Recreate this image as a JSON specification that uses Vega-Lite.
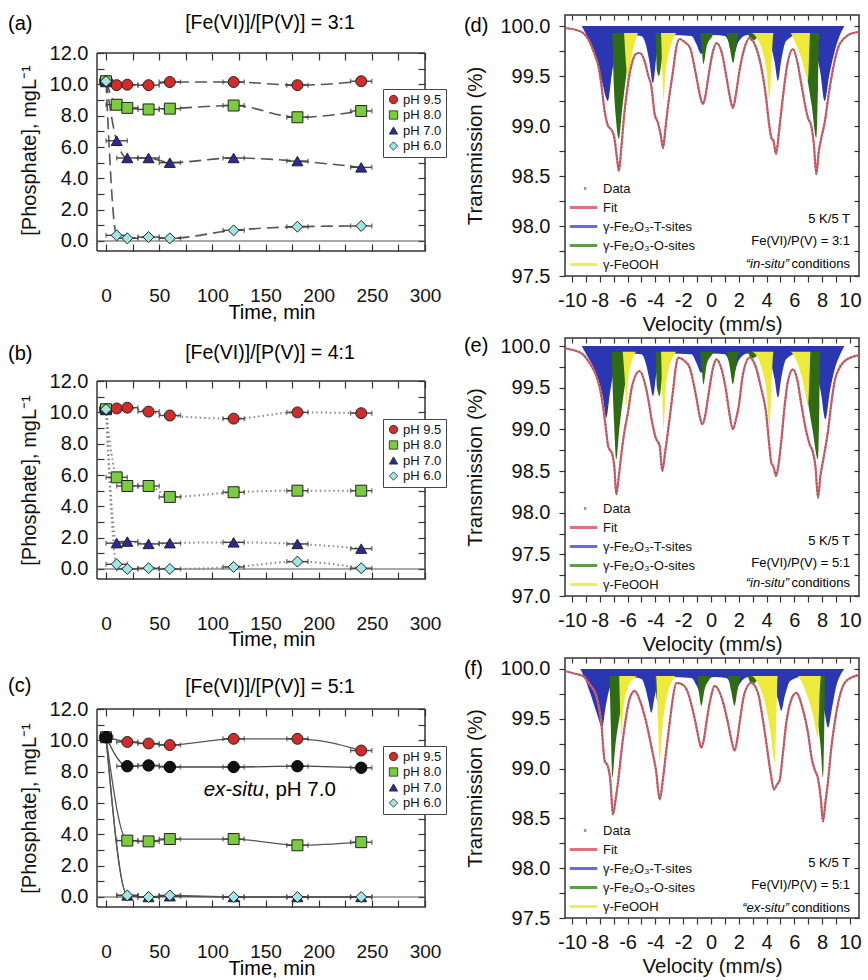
{
"$schema":"https://vega.github.io/schema/vega-lite/v6.json",
"background":"white",
"padding":{"left":8,"top":13,"right":0,"bottom":0},
"config":{"font":"Liberation Sans","view":{"stroke":"#333","strokeWidth":1.5},
"axis":{"domain":false,"grid":false,"tickColor":"#333","tickWidth":1.2,"labelColor":"#111","titleColor":"#111","titleFontWeight":"normal","labelFlush":false},
"legend":{"labelColor":"#111"}},
"datasets":{
"a":[{"t":0,"v":10.2,"ph":"pH 9.5","e":6},{"t":10,"v":9.95,"ph":"pH 9.5","e":10},{"t":20,"v":9.98,"ph":"pH 9.5","e":10},{"t":40,"v":9.95,"ph":"pH 9.5","e":10},{"t":60,"v":10.15,"ph":"pH 9.5","e":10},{"t":120,"v":10.15,"ph":"pH 9.5","e":10},{"t":180,"v":9.95,"ph":"pH 9.5","e":10},{"t":240,"v":10.2,"ph":"pH 9.5","e":10},
{"t":0,"v":10.2,"ph":"pH 8.0","e":6},{"t":10,"v":8.7,"ph":"pH 8.0","e":10},{"t":20,"v":8.5,"ph":"pH 8.0","e":10},{"t":40,"v":8.4,"ph":"pH 8.0","e":10},{"t":60,"v":8.45,"ph":"pH 8.0","e":10},{"t":120,"v":8.65,"ph":"pH 8.0","e":10},{"t":180,"v":7.9,"ph":"pH 8.0","e":10},{"t":240,"v":8.3,"ph":"pH 8.0","e":10},
{"t":0,"v":10.2,"ph":"pH 7.0","e":6},{"t":10,"v":6.4,"ph":"pH 7.0","e":10},{"t":20,"v":5.3,"ph":"pH 7.0","e":10},{"t":40,"v":5.3,"ph":"pH 7.0","e":10},{"t":60,"v":5.0,"ph":"pH 7.0","e":10},{"t":120,"v":5.3,"ph":"pH 7.0","e":10},{"t":180,"v":5.1,"ph":"pH 7.0","e":10},{"t":240,"v":4.7,"ph":"pH 7.0","e":10},
{"t":0,"v":10.2,"ph":"pH 6.0","e":6},{"t":10,"v":0.36,"ph":"pH 6.0","e":10},{"t":20,"v":0.17,"ph":"pH 6.0","e":10},{"t":40,"v":0.25,"ph":"pH 6.0","e":10},{"t":60,"v":0.17,"ph":"pH 6.0","e":10},{"t":120,"v":0.68,"ph":"pH 6.0","e":10},{"t":180,"v":0.91,"ph":"pH 6.0","e":10},{"t":240,"v":0.96,"ph":"pH 6.0","e":10}],
"b":[{"t":0,"v":10.2,"ph":"pH 9.5","e":6},{"t":10,"v":10.25,"ph":"pH 9.5","e":10},{"t":20,"v":10.3,"ph":"pH 9.5","e":10},{"t":40,"v":10.05,"ph":"pH 9.5","e":10},{"t":60,"v":9.8,"ph":"pH 9.5","e":10},{"t":120,"v":9.6,"ph":"pH 9.5","e":10},{"t":180,"v":10.0,"ph":"pH 9.5","e":10},{"t":240,"v":9.95,"ph":"pH 9.5","e":10},
{"t":0,"v":10.2,"ph":"pH 8.0","e":6},{"t":10,"v":5.85,"ph":"pH 8.0","e":10},{"t":20,"v":5.3,"ph":"pH 8.0","e":10},{"t":40,"v":5.3,"ph":"pH 8.0","e":10},{"t":60,"v":4.6,"ph":"pH 8.0","e":10},{"t":120,"v":4.9,"ph":"pH 8.0","e":10},{"t":180,"v":5.0,"ph":"pH 8.0","e":10},{"t":240,"v":5.0,"ph":"pH 8.0","e":10},
{"t":0,"v":10.2,"ph":"pH 7.0","e":6},{"t":10,"v":1.65,"ph":"pH 7.0","e":10},{"t":20,"v":1.75,"ph":"pH 7.0","e":10},{"t":40,"v":1.6,"ph":"pH 7.0","e":10},{"t":60,"v":1.65,"ph":"pH 7.0","e":10},{"t":120,"v":1.7,"ph":"pH 7.0","e":10},{"t":180,"v":1.6,"ph":"pH 7.0","e":10},{"t":240,"v":1.3,"ph":"pH 7.0","e":10},
{"t":0,"v":10.2,"ph":"pH 6.0","e":6},{"t":10,"v":0.3,"ph":"pH 6.0","e":10},{"t":20,"v":0.0,"ph":"pH 6.0","e":10},{"t":40,"v":0.05,"ph":"pH 6.0","e":10},{"t":60,"v":0.0,"ph":"pH 6.0","e":10},{"t":120,"v":0.13,"ph":"pH 6.0","e":10},{"t":180,"v":0.47,"ph":"pH 6.0","e":10},{"t":240,"v":0.05,"ph":"pH 6.0","e":10}],
"c":[{"t":0,"v":10.2,"ph":"pH 9.5","e":6},{"t":20,"v":9.9,"ph":"pH 9.5","e":10},{"t":40,"v":9.8,"ph":"pH 9.5","e":10},{"t":60,"v":9.7,"ph":"pH 9.5","e":10},{"t":120,"v":10.1,"ph":"pH 9.5","e":10},{"t":180,"v":10.1,"ph":"pH 9.5","e":10},{"t":240,"v":9.35,"ph":"pH 9.5","e":10},
{"t":0,"v":10.2,"ph":"pH 8.0","e":6},{"t":20,"v":3.6,"ph":"pH 8.0","e":10},{"t":40,"v":3.55,"ph":"pH 8.0","e":10},{"t":60,"v":3.7,"ph":"pH 8.0","e":10},{"t":120,"v":3.7,"ph":"pH 8.0","e":10},{"t":180,"v":3.3,"ph":"pH 8.0","e":10},{"t":240,"v":3.5,"ph":"pH 8.0","e":10},
{"t":0,"v":10.2,"ph":"pH 7.0","e":6},{"t":20,"v":0.1,"ph":"pH 7.0","e":10},{"t":40,"v":0.0,"ph":"pH 7.0","e":10},{"t":60,"v":0.05,"ph":"pH 7.0","e":10},{"t":120,"v":0.0,"ph":"pH 7.0","e":10},{"t":180,"v":0.0,"ph":"pH 7.0","e":10},{"t":240,"v":0.0,"ph":"pH 7.0","e":10},
{"t":0,"v":10.2,"ph":"pH 6.0","e":6},{"t":20,"v":0.1,"ph":"pH 6.0","e":10},{"t":40,"v":0.0,"ph":"pH 6.0","e":10},{"t":60,"v":0.1,"ph":"pH 6.0","e":10},{"t":120,"v":0.0,"ph":"pH 6.0","e":10},{"t":180,"v":0.0,"ph":"pH 6.0","e":10},{"t":240,"v":0.0,"ph":"pH 6.0","e":10}],
"cx":[{"t":0,"v":10.2,"e":6},{"t":20,"v":8.35,"e":10},{"t":40,"v":8.4,"e":10},{"t":60,"v":8.3,"e":10},{"t":120,"v":8.3,"e":10},{"t":180,"v":8.35,"e":10},{"t":240,"v":8.25,"e":10}],
"leg":[{"s":"Data"},{"s":"Fit"},{"s":"γ-Fe₂O₃-T-sites"},{"s":"γ-Fe₂O₃-O-sites"},{"s":"γ-FeOOH"}],
"dF":[{"v":-10.5,"y":99.98},{"v":-9.7,"y":99.96},{"v":-9.2,"y":99.93},{"v":-8.8,"y":99.86},{"v":-8.38,"y":99.72},{"v":-8.1,"y":99.6},{"v":-7.9,"y":99.43},{"v":-7.65,"y":99.15},{"v":-7.4,"y":99.0},{"v":-7.15,"y":98.96},{"v":-6.95,"y":98.88},{"v":-6.78,"y":98.7},{"v":-6.62,"y":98.55},{"v":-6.45,"y":98.78},{"v":-6.25,"y":99.1},{"v":-5.97,"y":99.42},{"v":-5.7,"y":99.62},{"v":-5.4,"y":99.72},{"v":-5.13,"y":99.73},{"v":-4.8,"y":99.66},{"v":-4.5,"y":99.5},{"v":-4.29,"y":99.4},{"v":-4.05,"y":99.12},{"v":-3.81,"y":99.03},{"v":-3.6,"y":98.9},{"v":-3.45,"y":98.78},{"v":-3.27,"y":98.98},{"v":-3.09,"y":99.2},{"v":-2.73,"y":99.55},{"v":-2.5,"y":99.78},{"v":-2.25,"y":99.87},{"v":-1.9,"y":99.84},{"v":-1.5,"y":99.78},{"v":-1.2,"y":99.6},{"v":-0.95,"y":99.42},{"v":-0.75,"y":99.28},{"v":-0.58,"y":99.22},{"v":-0.4,"y":99.3},{"v":-0.2,"y":99.48},{"v":0.1,"y":99.72},{"v":0.4,"y":99.83},{"v":0.8,"y":99.72},{"v":1.1,"y":99.5},{"v":1.35,"y":99.3},{"v":1.58,"y":99.18},{"v":1.8,"y":99.32},{"v":2.05,"y":99.55},{"v":2.35,"y":99.75},{"v":2.78,"y":99.88},{"v":3.2,"y":99.8},{"v":3.6,"y":99.6},{"v":3.95,"y":99.3},{"v":4.2,"y":99.0},{"v":4.35,"y":98.88},{"v":4.5,"y":98.85},{"v":4.68,"y":98.72},{"v":4.9,"y":98.95},{"v":5.1,"y":99.2},{"v":5.5,"y":99.62},{"v":5.9,"y":99.77},{"v":6.2,"y":99.65},{"v":6.5,"y":99.42},{"v":6.98,"y":99.08},{"v":7.22,"y":99.0},{"v":7.4,"y":98.82},{"v":7.58,"y":98.52},{"v":7.76,"y":98.75},{"v":7.94,"y":98.88},{"v":8.2,"y":99.05},{"v":8.45,"y":99.3},{"v":8.66,"y":99.48},{"v":9.14,"y":99.78},{"v":9.6,"y":99.88},{"v":10.2,"y":99.93},{"v":10.65,"y":99.94}],
"dT":[{"v":-9.3,"y":100},{"v":-8.86,"y":99.88},{"v":-8.38,"y":99.72},{"v":-7.9,"y":99.48},{"v":-7.41,"y":99.25},{"v":-7.15,"y":99.5},{"v":-6.85,"y":99.75},{"v":-6.4,"y":99.87},{"v":-5.8,"y":99.91},{"v":-5.0,"y":99.9},{"v":-4.7,"y":99.82},{"v":-4.45,"y":99.66},{"v":-4.17,"y":99.43},{"v":-3.92,"y":99.7},{"v":-3.6,"y":99.87},{"v":-3.0,"y":99.91},{"v":-1.4,"y":99.9},{"v":-1.05,"y":99.82},{"v":-0.7,"y":99.72},{"v":-0.38,"y":99.84},{"v":0.2,"y":99.91},{"v":1.0,"y":99.9},{"v":1.35,"y":99.82},{"v":1.65,"y":99.72},{"v":1.97,"y":99.84},{"v":2.6,"y":99.91},{"v":4.0,"y":99.9},{"v":4.32,"y":99.8},{"v":4.58,"y":99.64},{"v":4.82,"y":99.45},{"v":5.06,"y":99.66},{"v":5.4,"y":99.85},{"v":6.2,"y":99.91},{"v":7.0,"y":99.88},{"v":7.5,"y":99.76},{"v":7.85,"y":99.55},{"v":8.18,"y":99.25},{"v":8.5,"y":99.5},{"v":8.85,"y":99.72},{"v":9.25,"y":99.9},{"v":9.6,"y":100}],
"dO":[{"v":-7.1,"y":99.93},{"v":-7.0,"y":99.45},{"v":-6.85,"y":99.1},{"v":-6.62,"y":98.87},{"v":-6.4,"y":99.15},{"v":-6.1,"y":99.5},{"v":-5.8,"y":99.78},{"v":-5.5,"y":99.93},{"v":-4.0,"y":99.93},{"v":-3.88,"y":99.55},{"v":-3.75,"y":99.5},{"v":-3.5,"y":99.7},{"v":-3.3,"y":99.93},{"v":-0.8,"y":99.93},{"v":-0.65,"y":99.75},{"v":-0.55,"y":99.62},{"v":-0.3,"y":99.8},{"v":0.1,"y":99.9},{"v":0.2,"y":99.93},{"v":1.1,"y":99.93},{"v":1.35,"y":99.78},{"v":1.6,"y":99.63},{"v":1.8,"y":99.78},{"v":2.05,"y":99.93},{"v":2.6,"y":99.93},{"v":2.9,"y":99.85},{"v":3.3,"y":99.88},{"v":3.5,"y":99.93},{"v":6.1,"y":99.93},{"v":6.5,"y":99.78},{"v":6.9,"y":99.5},{"v":7.25,"y":99.2},{"v":7.58,"y":98.88},{"v":7.7,"y":99.4},{"v":7.78,"y":99.9},{"v":7.82,"y":99.93}],
"dY":[{"v":-6.25,"y":99.93},{"v":-6.1,"y":99.6},{"v":-5.97,"y":99.42},{"v":-5.8,"y":99.62},{"v":-5.5,"y":99.82},{"v":-5.2,"y":99.93},{"v":-3.6,"y":99.93},{"v":-3.5,"y":99.55},{"v":-3.4,"y":99.27},{"v":-3.25,"y":99.55},{"v":-3.0,"y":99.75},{"v":-2.7,"y":99.88},{"v":-2.45,"y":99.93},{"v":2.9,"y":99.93},{"v":3.3,"y":99.88},{"v":3.7,"y":99.75},{"v":4.0,"y":99.55},{"v":4.22,"y":99.27},{"v":4.35,"y":99.6},{"v":4.5,"y":99.93},{"v":5.7,"y":99.93},{"v":6.1,"y":99.82},{"v":6.5,"y":99.68},{"v":6.85,"y":99.5},{"v":6.98,"y":99.45},{"v":7.06,"y":99.7},{"v":7.12,"y":99.93}],
"eF":[{"v":-10.5,"y":99.97},{"v":-9.7,"y":99.94},{"v":-9.21,"y":99.9},{"v":-8.75,"y":99.8},{"v":-8.25,"y":99.64},{"v":-8.0,"y":99.5},{"v":-7.77,"y":99.28},{"v":-7.55,"y":99.0},{"v":-7.4,"y":98.8},{"v":-7.1,"y":98.7},{"v":-6.95,"y":98.55},{"v":-6.81,"y":98.22},{"v":-6.62,"y":98.45},{"v":-6.45,"y":98.7},{"v":-6.2,"y":99.0},{"v":-5.97,"y":99.2},{"v":-5.7,"y":99.5},{"v":-5.49,"y":99.62},{"v":-5.13,"y":99.7},{"v":-4.8,"y":99.58},{"v":-4.53,"y":99.38},{"v":-4.25,"y":99.1},{"v":-3.98,"y":98.9},{"v":-3.69,"y":98.8},{"v":-3.5,"y":98.5},{"v":-3.3,"y":98.72},{"v":-3.09,"y":98.98},{"v":-2.73,"y":99.46},{"v":-2.55,"y":99.72},{"v":-2.37,"y":99.86},{"v":-1.9,"y":99.82},{"v":-1.53,"y":99.74},{"v":-1.25,"y":99.55},{"v":-1.05,"y":99.38},{"v":-0.8,"y":99.15},{"v":-0.62,"y":99.06},{"v":-0.42,"y":99.16},{"v":-0.21,"y":99.38},{"v":0.15,"y":99.74},{"v":0.38,"y":99.84},{"v":0.8,"y":99.7},{"v":1.1,"y":99.45},{"v":1.3,"y":99.22},{"v":1.58,"y":99.0},{"v":1.8,"y":99.12},{"v":2.0,"y":99.28},{"v":2.3,"y":99.66},{"v":2.78,"y":99.86},{"v":3.2,"y":99.76},{"v":3.6,"y":99.5},{"v":3.98,"y":99.18},{"v":4.2,"y":98.8},{"v":4.34,"y":98.6},{"v":4.5,"y":98.55},{"v":4.68,"y":98.44},{"v":4.88,"y":98.6},{"v":5.06,"y":98.86},{"v":5.3,"y":99.28},{"v":5.54,"y":99.58},{"v":5.9,"y":99.72},{"v":6.2,"y":99.6},{"v":6.5,"y":99.3},{"v":6.8,"y":99.02},{"v":7.1,"y":98.82},{"v":7.34,"y":98.72},{"v":7.52,"y":98.55},{"v":7.7,"y":98.18},{"v":7.88,"y":98.45},{"v":8.06,"y":98.62},{"v":8.42,"y":98.98},{"v":8.65,"y":99.3},{"v":8.9,"y":99.58},{"v":9.25,"y":99.74},{"v":9.62,"y":99.82},{"v":10.2,"y":99.87},{"v":10.65,"y":99.89}],
"eT":[{"v":-9.3,"y":100},{"v":-8.9,"y":99.88},{"v":-8.25,"y":99.66},{"v":-7.77,"y":99.38},{"v":-7.53,"y":99.14},{"v":-7.28,"y":99.42},{"v":-6.95,"y":99.72},{"v":-6.4,"y":99.87},{"v":-5.8,"y":99.91},{"v":-5.0,"y":99.9},{"v":-4.7,"y":99.8},{"v":-4.45,"y":99.62},{"v":-4.17,"y":99.4},{"v":-3.92,"y":99.68},{"v":-3.6,"y":99.87},{"v":-3.0,"y":99.91},{"v":-1.4,"y":99.9},{"v":-1.05,"y":99.8},{"v":-0.7,"y":99.68},{"v":-0.38,"y":99.82},{"v":0.2,"y":99.91},{"v":1.0,"y":99.9},{"v":1.35,"y":99.8},{"v":1.65,"y":99.68},{"v":1.97,"y":99.82},{"v":2.6,"y":99.91},{"v":4.0,"y":99.9},{"v":4.32,"y":99.78},{"v":4.58,"y":99.6},{"v":4.82,"y":99.38},{"v":5.06,"y":99.62},{"v":5.4,"y":99.84},{"v":6.2,"y":99.91},{"v":7.0,"y":99.87},{"v":7.5,"y":99.72},{"v":7.9,"y":99.45},{"v":8.23,"y":99.12},{"v":8.55,"y":99.45},{"v":8.9,"y":99.72},{"v":9.3,"y":99.9},{"v":9.6,"y":100}],
"eO":[{"v":-7.15,"y":99.93},{"v":-7.05,"y":99.4},{"v":-6.95,"y":99.0},{"v":-6.81,"y":98.64},{"v":-6.6,"y":99.0},{"v":-6.3,"y":99.4},{"v":-6.0,"y":99.72},{"v":-5.7,"y":99.9},{"v":-5.5,"y":99.93},{"v":-4.0,"y":99.93},{"v":-3.88,"y":99.5},{"v":-3.7,"y":99.4},{"v":-3.5,"y":99.65},{"v":-3.3,"y":99.93},{"v":-0.8,"y":99.93},{"v":-0.65,"y":99.7},{"v":-0.55,"y":99.54},{"v":-0.3,"y":99.78},{"v":0.1,"y":99.9},{"v":0.2,"y":99.93},{"v":1.1,"y":99.93},{"v":1.35,"y":99.75},{"v":1.58,"y":99.54},{"v":1.8,"y":99.75},{"v":2.05,"y":99.93},{"v":2.6,"y":99.93},{"v":2.9,"y":99.85},{"v":3.3,"y":99.88},{"v":3.5,"y":99.93},{"v":6.1,"y":99.93},{"v":6.5,"y":99.75},{"v":6.9,"y":99.4},{"v":7.3,"y":99.0},{"v":7.7,"y":98.64},{"v":7.8,"y":99.3},{"v":7.86,"y":99.9},{"v":7.9,"y":99.93}],
"eY":[{"v":-6.35,"y":99.93},{"v":-6.2,"y":99.6},{"v":-6.09,"y":99.28},{"v":-5.95,"y":99.6},{"v":-5.65,"y":99.84},{"v":-5.35,"y":99.93},{"v":-3.6,"y":99.93},{"v":-3.5,"y":99.4},{"v":-3.4,"y":99.02},{"v":-3.25,"y":99.5},{"v":-3.0,"y":99.75},{"v":-2.7,"y":99.88},{"v":-2.45,"y":99.93},{"v":2.9,"y":99.93},{"v":3.3,"y":99.88},{"v":3.7,"y":99.7},{"v":4.0,"y":99.45},{"v":4.22,"y":99.04},{"v":4.35,"y":99.5},{"v":4.5,"y":99.93},{"v":5.7,"y":99.93},{"v":6.1,"y":99.84},{"v":6.5,"y":99.65},{"v":6.85,"y":99.38},{"v":6.98,"y":99.28},{"v":7.08,"y":99.6},{"v":7.15,"y":99.93}],
"fF":[{"v":-10.5,"y":99.98},{"v":-9.7,"y":99.95},{"v":-9.21,"y":99.93},{"v":-8.75,"y":99.85},{"v":-8.25,"y":99.73},{"v":-7.89,"y":99.46},{"v":-7.65,"y":99.08},{"v":-7.41,"y":99.02},{"v":-7.25,"y":98.9},{"v":-7.05,"y":98.54},{"v":-6.87,"y":98.68},{"v":-6.69,"y":98.86},{"v":-6.33,"y":99.3},{"v":-5.85,"y":99.7},{"v":-5.49,"y":99.78},{"v":-5.05,"y":99.66},{"v":-4.65,"y":99.46},{"v":-4.2,"y":99.16},{"v":-3.95,"y":98.98},{"v":-3.69,"y":98.69},{"v":-3.45,"y":98.9},{"v":-3.2,"y":99.2},{"v":-2.97,"y":99.46},{"v":-2.75,"y":99.7},{"v":-2.49,"y":99.86},{"v":-2.0,"y":99.84},{"v":-1.65,"y":99.76},{"v":-1.3,"y":99.58},{"v":-1.05,"y":99.42},{"v":-0.85,"y":99.28},{"v":-0.7,"y":99.21},{"v":-0.5,"y":99.3},{"v":-0.33,"y":99.46},{"v":0.0,"y":99.72},{"v":0.26,"y":99.83},{"v":0.8,"y":99.7},{"v":1.22,"y":99.46},{"v":1.45,"y":99.3},{"v":1.7,"y":99.18},{"v":1.9,"y":99.3},{"v":2.06,"y":99.46},{"v":2.42,"y":99.76},{"v":2.9,"y":99.86},{"v":3.4,"y":99.75},{"v":3.7,"y":99.52},{"v":3.98,"y":99.26},{"v":4.3,"y":98.95},{"v":4.53,"y":98.79},{"v":4.75,"y":98.84},{"v":4.94,"y":98.88},{"v":5.15,"y":99.12},{"v":5.42,"y":99.46},{"v":5.8,"y":99.7},{"v":6.14,"y":99.76},{"v":6.6,"y":99.6},{"v":6.98,"y":99.36},{"v":7.25,"y":99.1},{"v":7.46,"y":98.99},{"v":7.7,"y":98.9},{"v":7.9,"y":98.7},{"v":8.06,"y":98.47},{"v":8.25,"y":98.68},{"v":8.42,"y":98.87},{"v":8.65,"y":99.2},{"v":8.9,"y":99.46},{"v":9.25,"y":99.72},{"v":9.62,"y":99.86},{"v":10.2,"y":99.92},{"v":10.65,"y":99.94}],
"fT":[{"v":-9.4,"y":100},{"v":-9.0,"y":99.88},{"v":-8.6,"y":99.72},{"v":-8.2,"y":99.55},{"v":-7.82,"y":99.41},{"v":-7.6,"y":99.6},{"v":-7.3,"y":99.8},{"v":-6.8,"y":99.9},{"v":-5.8,"y":99.92},{"v":-5.0,"y":99.9},{"v":-4.7,"y":99.8},{"v":-4.5,"y":99.68},{"v":-4.29,"y":99.56},{"v":-4.05,"y":99.72},{"v":-3.75,"y":99.87},{"v":-3.0,"y":99.92},{"v":-1.4,"y":99.91},{"v":-1.05,"y":99.84},{"v":-0.75,"y":99.76},{"v":-0.45,"y":99.85},{"v":0.2,"y":99.92},{"v":1.1,"y":99.91},{"v":1.45,"y":99.84},{"v":1.75,"y":99.76},{"v":2.05,"y":99.85},{"v":2.7,"y":99.92},{"v":4.2,"y":99.91},{"v":4.6,"y":99.8},{"v":4.85,"y":99.68},{"v":5.06,"y":99.58},{"v":5.3,"y":99.72},{"v":5.7,"y":99.88},{"v":6.5,"y":99.92},{"v":7.3,"y":99.88},{"v":7.8,"y":99.75},{"v":8.15,"y":99.58},{"v":8.42,"y":99.41},{"v":8.7,"y":99.6},{"v":9.0,"y":99.82},{"v":9.35,"y":99.95},{"v":9.6,"y":100}],
"fO":[{"v":-7.3,"y":99.93},{"v":-7.2,"y":99.4},{"v":-7.1,"y":98.91},{"v":-6.9,"y":99.2},{"v":-6.6,"y":99.5},{"v":-6.3,"y":99.7},{"v":-6.0,"y":99.85},{"v":-5.7,"y":99.93},{"v":-4.05,"y":99.93},{"v":-3.9,"y":99.7},{"v":-3.75,"y":99.65},{"v":-3.5,"y":99.8},{"v":-3.2,"y":99.93},{"v":-1.0,"y":99.93},{"v":-0.85,"y":99.75},{"v":-0.7,"y":99.63},{"v":-0.45,"y":99.8},{"v":-0.1,"y":99.9},{"v":0.0,"y":99.93},{"v":1.2,"y":99.93},{"v":1.45,"y":99.78},{"v":1.7,"y":99.63},{"v":1.9,"y":99.78},{"v":2.15,"y":99.93},{"v":2.6,"y":99.93},{"v":2.9,"y":99.85},{"v":3.3,"y":99.88},{"v":3.5,"y":99.93},{"v":6.8,"y":99.93},{"v":7.2,"y":99.85},{"v":7.6,"y":99.55},{"v":7.9,"y":99.2},{"v":8.06,"y":98.91},{"v":8.15,"y":99.4},{"v":8.2,"y":99.93}],
"fY":[{"v":-6.6,"y":99.93},{"v":-6.52,"y":99.55},{"v":-6.45,"y":99.33},{"v":-6.3,"y":99.6},{"v":-6.0,"y":99.8},{"v":-5.6,"y":99.9},{"v":-5.3,"y":99.93},{"v":-3.95,"y":99.93},{"v":-3.8,"y":99.4},{"v":-3.69,"y":99.06},{"v":-3.5,"y":99.4},{"v":-3.2,"y":99.7},{"v":-2.8,"y":99.88},{"v":-2.5,"y":99.93},{"v":2.9,"y":99.93},{"v":3.4,"y":99.85},{"v":3.9,"y":99.65},{"v":4.3,"y":99.35},{"v":4.58,"y":99.06},{"v":4.7,"y":99.5},{"v":4.8,"y":99.93},{"v":6.2,"y":99.93},{"v":6.6,"y":99.85},{"v":7.0,"y":99.7},{"v":7.4,"y":99.5},{"v":7.7,"y":99.31},{"v":7.8,"y":99.7},{"v":7.9,"y":99.93}]
},
"hconcat":[
{"vconcat":[
{"width":328,"height":236,"view":{"stroke":null},"data":{"name":"a"},"layer":[
{"data":{"values":[{}]},"mark":{"type":"rule","color":"#333","strokeWidth":1.5},"encoding":{"x":{"datum":-8.5,"scale":{"domain":[-8.5,300],"nice":false,"zero":false},"axis":null},"x2":{"datum":300},"y":{"datum":12,"scale":{"domain":[-0.64,14.43],"nice":false,"zero":false},"axis":null}}},
{"data":{"values":[{}]},"mark":{"type":"rule","color":"#333","strokeWidth":1.5},"encoding":{"x":{"datum":-8.5,"scale":{"domain":[-8.5,300],"nice":false,"zero":false},"axis":null},"x2":{"datum":300},"y":{"datum":-0.64,"scale":{"domain":[-0.64,14.43],"nice":false,"zero":false},"axis":null}}},
{"data":{"values":[{}]},"mark":{"type":"rule","color":"#333","strokeWidth":1.5},"encoding":{"x":{"datum":-8.5,"scale":{"domain":[-8.5,300],"nice":false,"zero":false},"axis":null},"y":{"datum":-0.64,"scale":{"domain":[-0.64,14.43],"nice":false,"zero":false},"axis":null},"y2":{"datum":12}}},
{"data":{"values":[{}]},"mark":{"type":"rule","color":"#333","strokeWidth":1.5},"encoding":{"x":{"datum":300,"scale":{"domain":[-8.5,300],"nice":false,"zero":false},"axis":null},"y":{"datum":-0.64,"scale":{"domain":[-0.64,14.43],"nice":false,"zero":false},"axis":null},"y2":{"datum":12}}},
{"data":{"values":[{}]},"mark":{"type":"rule","color":"#555","strokeWidth":1.2},"encoding":{"x":{"datum":-8.5,"scale":{"domain":[-8.5,300],"nice":false,"zero":false},"axis":null},"x2":{"datum":300},"y":{"datum":0,"scale":{"domain":[-0.64,14.43],"nice":false,"zero":false},"axis":null}}},
{"mark":{"type":"line","color":"#555","strokeWidth":1.6,"strokeDash":[12,6],"interpolate":"monotone"},"encoding":{"x":{"field":"t","type":"quantitative","scale":{"domain":[-8.5,300],"nice":false,"zero":false},"axis":{"orient":"top","offset":-38,"values":[0,25,50,75,100,125,150,175,200,225,250,275,300],"labels":false,"tickSize":-7,"title":null}},"y":{"field":"v","type":"quantitative","scale":{"domain":[-0.64,14.43],"nice":false,"zero":false},"axis":{"orient":"right","values":[0,1,2,3,4,5,6,7,8,9,10,11,12],"labels":false,"tickSize":-7,"title":null}},"detail":{"field":"ph"}}},
{"mark":{"type":"errorbar","color":"#444","ticks":true,"thickness":1.4},"encoding":{"x":{"field":"t","type":"quantitative","scale":{"domain":[-8.5,300],"nice":false,"zero":false},"axis":null},"xError":{"field":"e"},"y":{"field":"v","type":"quantitative","scale":{"domain":[-0.64,14.43],"nice":false,"zero":false},"axis":null}}},
{"mark":{"type":"point","filled":true,"size":120,"stroke":"#222","strokeWidth":1,"opacity":1},"encoding":{"x":{"field":"t","type":"quantitative","scale":{"domain":[-8.5,300],"nice":false,"zero":false},"axis":{"orient":"bottom","values":[0,25,50,75,100,125,150,175,200,225,250,275,300],"labelExpr":"datum.value % 50 == 0 ? datum.label : ''","tickSize":-7,"labelPadding":42,"labelBaseline":"top","labelFontSize":19,"labelOverlap":false,"title":null}},"y":{"field":"v","type":"quantitative","scale":{"domain":[-0.64,14.43],"nice":false,"zero":false},"axis":{"orient":"left","values":[0,1,2,3,4,5,6,7,8,9,10,11,12],"labelExpr":"datum.value % 2 == 0 ? format(datum.value, '.1f') : ''","tickSize":-7,"labelPadding":16,"labelFontSize":20,"labelOverlap":false,"title":"[Phosphate], mgL⁻¹","titleFontSize":20,"titlePadding":10,"titleY":135}},
"color":{"field":"ph","type":"nominal","scale":{"domain":["pH 9.5","pH 8.0","pH 7.0","pH 6.0"],"range":["#d42a2a","#79cc3c","#2a2a9c","#9fe6e6"]},"legend":{"orient":"none","legendX":286,"legendY":74,"title":null,"strokeColor":"#444","fillColor":"#ffffff","padding":4,"labelFontSize":13,"symbolSize":70,"rowPadding":1.5,"labelOffset":3,"symbolStrokeColor":"#222","symbolStrokeWidth":0.8}},
"shape":{"field":"ph","type":"nominal","scale":{"domain":["pH 9.5","pH 8.0","pH 7.0","pH 6.0"],"range":["circle","square","triangle-up","diamond"]},"legend":{"orient":"none","legendX":286,"legendY":74,"title":null,"strokeColor":"#444","fillColor":"#ffffff","padding":4,"labelFontSize":13,"symbolSize":70,"rowPadding":1.5,"labelOffset":3,"symbolStrokeColor":"#222","symbolStrokeWidth":0.8}}}},
{"data":{"values":[{}]},"mark":{"type":"text","fontSize":20,"align":"left","baseline":"middle"},"encoding":{"x":{"datum":-92.2,"scale":{"domain":[-8.5,300],"nice":false,"zero":false},"axis":null},"y":{"datum":13.88,"scale":{"domain":[-0.64,14.43],"nice":false,"zero":false},"axis":null},"text":{"value":"(a)"}}},
{"data":{"values":[{}]},"mark":{"type":"text","fontSize":19.5,"align":"center","baseline":"middle"},"encoding":{"x":{"datum":154.2,"scale":{"domain":[-8.5,300],"nice":false,"zero":false},"axis":null},"y":{"datum":13.91,"scale":{"domain":[-0.64,14.43],"nice":false,"zero":false},"axis":null},"text":{"value":"[Fe(VI)]/[P(V)] = 3:1"}}},
{"data":{"values":[{}]},"mark":{"type":"text","fontSize":20,"align":"center","baseline":"middle"},"encoding":{"x":{"datum":156,"scale":{"domain":[-8.5,300],"nice":false,"zero":false},"axis":null},"y":{"datum":-4.6,"scale":{"domain":[-0.64,14.43],"nice":false,"zero":false},"axis":null},"text":{"value":"Time, min"}}}
],"resolve":{"axis":{"x":"independent","y":"independent"}}},
{"width":328,"height":236,"view":{"stroke":null},"data":{"name":"b"},"layer":[
{"data":{"values":[{}]},"mark":{"type":"rule","color":"#333","strokeWidth":1.5},"encoding":{"x":{"datum":-8.5,"scale":{"domain":[-8.5,300],"nice":false,"zero":false},"axis":null},"x2":{"datum":300},"y":{"datum":12,"scale":{"domain":[-0.64,14.43],"nice":false,"zero":false},"axis":null}}},
{"data":{"values":[{}]},"mark":{"type":"rule","color":"#333","strokeWidth":1.5},"encoding":{"x":{"datum":-8.5,"scale":{"domain":[-8.5,300],"nice":false,"zero":false},"axis":null},"x2":{"datum":300},"y":{"datum":-0.64,"scale":{"domain":[-0.64,14.43],"nice":false,"zero":false},"axis":null}}},
{"data":{"values":[{}]},"mark":{"type":"rule","color":"#333","strokeWidth":1.5},"encoding":{"x":{"datum":-8.5,"scale":{"domain":[-8.5,300],"nice":false,"zero":false},"axis":null},"y":{"datum":-0.64,"scale":{"domain":[-0.64,14.43],"nice":false,"zero":false},"axis":null},"y2":{"datum":12}}},
{"data":{"values":[{}]},"mark":{"type":"rule","color":"#333","strokeWidth":1.5},"encoding":{"x":{"datum":300,"scale":{"domain":[-8.5,300],"nice":false,"zero":false},"axis":null},"y":{"datum":-0.64,"scale":{"domain":[-0.64,14.43],"nice":false,"zero":false},"axis":null},"y2":{"datum":12}}},
{"data":{"values":[{}]},"mark":{"type":"rule","color":"#555","strokeWidth":1.2},"encoding":{"x":{"datum":-8.5,"scale":{"domain":[-8.5,300],"nice":false,"zero":false},"axis":null},"x2":{"datum":300},"y":{"datum":0,"scale":{"domain":[-0.64,14.43],"nice":false,"zero":false},"axis":null}}},
{"mark":{"type":"line","color":"#888","strokeWidth":2,"strokeDash":[1.5,3],"interpolate":"monotone"},"encoding":{"x":{"field":"t","type":"quantitative","scale":{"domain":[-8.5,300],"nice":false,"zero":false},"axis":{"orient":"top","offset":-38,"values":[0,25,50,75,100,125,150,175,200,225,250,275,300],"labels":false,"tickSize":-7,"title":null}},"y":{"field":"v","type":"quantitative","scale":{"domain":[-0.64,14.43],"nice":false,"zero":false},"axis":{"orient":"right","values":[0,1,2,3,4,5,6,7,8,9,10,11,12],"labels":false,"tickSize":-7,"title":null}},"detail":{"field":"ph"}}},
{"mark":{"type":"errorbar","color":"#444","ticks":true,"thickness":1.4},"encoding":{"x":{"field":"t","type":"quantitative","scale":{"domain":[-8.5,300],"nice":false,"zero":false},"axis":null},"xError":{"field":"e"},"y":{"field":"v","type":"quantitative","scale":{"domain":[-0.64,14.43],"nice":false,"zero":false},"axis":null}}},
{"mark":{"type":"point","filled":true,"size":120,"stroke":"#222","strokeWidth":1,"opacity":1},"encoding":{"x":{"field":"t","type":"quantitative","scale":{"domain":[-8.5,300],"nice":false,"zero":false},"axis":{"orient":"bottom","values":[0,25,50,75,100,125,150,175,200,225,250,275,300],"labelExpr":"datum.value % 50 == 0 ? datum.label : ''","tickSize":-7,"labelPadding":42,"labelBaseline":"top","labelFontSize":19,"labelOverlap":false,"title":null}},"y":{"field":"v","type":"quantitative","scale":{"domain":[-0.64,14.43],"nice":false,"zero":false},"axis":{"orient":"left","values":[0,1,2,3,4,5,6,7,8,9,10,11,12],"labelExpr":"datum.value % 2 == 0 ? format(datum.value, '.1f') : ''","tickSize":-7,"labelPadding":16,"labelFontSize":20,"labelOverlap":false,"title":"[Phosphate], mgL⁻¹","titleFontSize":20,"titlePadding":10,"titleY":137}},
"color":{"field":"ph","type":"nominal","scale":{"domain":["pH 9.5","pH 8.0","pH 7.0","pH 6.0"],"range":["#d42a2a","#79cc3c","#2a2a9c","#9fe6e6"]},"legend":{"orient":"none","legendX":286,"legendY":76,"title":null,"strokeColor":"#444","fillColor":"#ffffff","padding":4,"labelFontSize":13,"symbolSize":70,"rowPadding":1.5,"labelOffset":3,"symbolStrokeColor":"#222","symbolStrokeWidth":0.8}},
"shape":{"field":"ph","type":"nominal","scale":{"domain":["pH 9.5","pH 8.0","pH 7.0","pH 6.0"],"range":["circle","square","triangle-up","diamond"]},"legend":{"orient":"none","legendX":286,"legendY":76,"title":null,"strokeColor":"#444","fillColor":"#ffffff","padding":4,"labelFontSize":13,"symbolSize":70,"rowPadding":1.5,"labelOffset":3,"symbolStrokeColor":"#222","symbolStrokeWidth":0.8}}}},
{"data":{"values":[{}]},"mark":{"type":"text","fontSize":20,"align":"left","baseline":"middle"},"encoding":{"x":{"datum":-92.2,"scale":{"domain":[-8.5,300],"nice":false,"zero":false},"axis":null},"y":{"datum":13.7,"scale":{"domain":[-0.64,14.43],"nice":false,"zero":false},"axis":null},"text":{"value":"(b)"}}},
{"data":{"values":[{}]},"mark":{"type":"text","fontSize":19.5,"align":"center","baseline":"middle"},"encoding":{"x":{"datum":154.2,"scale":{"domain":[-8.5,300],"nice":false,"zero":false},"axis":null},"y":{"datum":13.78,"scale":{"domain":[-0.64,14.43],"nice":false,"zero":false},"axis":null},"text":{"value":"[Fe(VI)]/[P(V)] = 4:1"}}},
{"data":{"values":[{}]},"mark":{"type":"text","fontSize":20,"align":"center","baseline":"middle"},"encoding":{"x":{"datum":156,"scale":{"domain":[-8.5,300],"nice":false,"zero":false},"axis":null},"y":{"datum":-4.55,"scale":{"domain":[-0.64,14.43],"nice":false,"zero":false},"axis":null},"text":{"value":"Time, min"}}}
],"resolve":{"axis":{"x":"independent","y":"independent"}}},
{"width":328,"height":236,"view":{"stroke":null},"data":{"name":"c"},"layer":[
{"data":{"values":[{}]},"mark":{"type":"rule","color":"#333","strokeWidth":1.5},"encoding":{"x":{"datum":-8.5,"scale":{"domain":[-8.5,300],"nice":false,"zero":false},"axis":null},"x2":{"datum":300},"y":{"datum":12,"scale":{"domain":[-0.64,14.43],"nice":false,"zero":false},"axis":null}}},
{"data":{"values":[{}]},"mark":{"type":"rule","color":"#333","strokeWidth":1.5},"encoding":{"x":{"datum":-8.5,"scale":{"domain":[-8.5,300],"nice":false,"zero":false},"axis":null},"x2":{"datum":300},"y":{"datum":-0.64,"scale":{"domain":[-0.64,14.43],"nice":false,"zero":false},"axis":null}}},
{"data":{"values":[{}]},"mark":{"type":"rule","color":"#333","strokeWidth":1.5},"encoding":{"x":{"datum":-8.5,"scale":{"domain":[-8.5,300],"nice":false,"zero":false},"axis":null},"y":{"datum":-0.64,"scale":{"domain":[-0.64,14.43],"nice":false,"zero":false},"axis":null},"y2":{"datum":12}}},
{"data":{"values":[{}]},"mark":{"type":"rule","color":"#333","strokeWidth":1.5},"encoding":{"x":{"datum":300,"scale":{"domain":[-8.5,300],"nice":false,"zero":false},"axis":null},"y":{"datum":-0.64,"scale":{"domain":[-0.64,14.43],"nice":false,"zero":false},"axis":null},"y2":{"datum":12}}},
{"data":{"values":[{}]},"mark":{"type":"rule","color":"#555","strokeWidth":1.2},"encoding":{"x":{"datum":-8.5,"scale":{"domain":[-8.5,300],"nice":false,"zero":false},"axis":null},"x2":{"datum":300},"y":{"datum":0,"scale":{"domain":[-0.64,14.43],"nice":false,"zero":false},"axis":null}}},
{"mark":{"type":"line","color":"#555","strokeWidth":1.3,"interpolate":"monotone"},"encoding":{"x":{"field":"t","type":"quantitative","scale":{"domain":[-8.5,300],"nice":false,"zero":false},"axis":{"orient":"top","offset":-38,"values":[0,25,50,75,100,125,150,175,200,225,250,275,300],"labels":false,"tickSize":-7,"title":null}},"y":{"field":"v","type":"quantitative","scale":{"domain":[-0.64,14.43],"nice":false,"zero":false},"axis":{"orient":"right","values":[0,1,2,3,4,5,6,7,8,9,10,11,12],"labels":false,"tickSize":-7,"title":null}},"detail":{"field":"ph"}}},
{"data":{"name":"cx"},"mark":{"type":"line","color":"#444","strokeWidth":1.3,"interpolate":"monotone"},"encoding":{"x":{"field":"t","type":"quantitative","scale":{"domain":[-8.5,300],"nice":false,"zero":false},"axis":null},"y":{"field":"v","type":"quantitative","scale":{"domain":[-0.64,14.43],"nice":false,"zero":false},"axis":null}}},
{"mark":{"type":"errorbar","color":"#444","ticks":true,"thickness":1.4},"encoding":{"x":{"field":"t","type":"quantitative","scale":{"domain":[-8.5,300],"nice":false,"zero":false},"axis":null},"xError":{"field":"e"},"y":{"field":"v","type":"quantitative","scale":{"domain":[-0.64,14.43],"nice":false,"zero":false},"axis":null}}},
{"data":{"name":"cx"},"mark":{"type":"errorbar","color":"#444","ticks":true,"thickness":1.4},"encoding":{"x":{"field":"t","type":"quantitative","scale":{"domain":[-8.5,300],"nice":false,"zero":false},"axis":null},"xError":{"field":"e"},"y":{"field":"v","type":"quantitative","scale":{"domain":[-0.64,14.43],"nice":false,"zero":false},"axis":null}}},
{"mark":{"type":"point","filled":true,"size":120,"stroke":"#222","strokeWidth":1,"opacity":1},"encoding":{"x":{"field":"t","type":"quantitative","scale":{"domain":[-8.5,300],"nice":false,"zero":false},"axis":{"orient":"bottom","values":[0,25,50,75,100,125,150,175,200,225,250,275,300],"labelExpr":"datum.value % 50 == 0 ? datum.label : ''","tickSize":-7,"labelPadding":42,"labelBaseline":"top","labelFontSize":19,"labelOverlap":false,"title":null}},"y":{"field":"v","type":"quantitative","scale":{"domain":[-0.64,14.43],"nice":false,"zero":false},"axis":{"orient":"left","values":[0,1,2,3,4,5,6,7,8,9,10,11,12],"labelExpr":"datum.value % 2 == 0 ? format(datum.value, '.1f') : ''","tickSize":-7,"labelPadding":16,"labelFontSize":20,"labelOverlap":false,"title":"[Phosphate], mgL⁻¹","titleFontSize":20,"titlePadding":10,"titleY":137}},
"color":{"field":"ph","type":"nominal","scale":{"domain":["pH 9.5","pH 8.0","pH 7.0","pH 6.0"],"range":["#d42a2a","#79cc3c","#2a2a9c","#9fe6e6"]},"legend":{"orient":"none","legendX":286,"legendY":75,"title":null,"strokeColor":"#444","fillColor":"#ffffff","padding":4,"labelFontSize":13,"symbolSize":70,"rowPadding":1.5,"labelOffset":3,"symbolStrokeColor":"#222","symbolStrokeWidth":0.8}},
"shape":{"field":"ph","type":"nominal","scale":{"domain":["pH 9.5","pH 8.0","pH 7.0","pH 6.0"],"range":["circle","square","triangle-up","diamond"]},"legend":{"orient":"none","legendX":286,"legendY":75,"title":null,"strokeColor":"#444","fillColor":"#ffffff","padding":4,"labelFontSize":13,"symbolSize":70,"rowPadding":1.5,"labelOffset":3,"symbolStrokeColor":"#222","symbolStrokeWidth":0.8}}}},
{"data":{"name":"cx"},"mark":{"type":"point","filled":true,"size":130,"color":"#111","stroke":"#000","strokeWidth":1,"opacity":1,"shape":"circle"},"encoding":{"x":{"field":"t","type":"quantitative","scale":{"domain":[-8.5,300],"nice":false,"zero":false},"axis":null},"y":{"field":"v","type":"quantitative","scale":{"domain":[-0.64,14.43],"nice":false,"zero":false},"axis":null}}},
{"data":{"values":[{}]},"mark":{"type":"text","fontSize":20.5,"align":"right","baseline":"middle","fontStyle":"italic"},"encoding":{"x":{"datum":148.6,"scale":{"domain":[-8.5,300],"nice":false,"zero":false},"axis":null},"y":{"datum":6.8,"scale":{"domain":[-0.64,14.43],"nice":false,"zero":false},"axis":null},"text":{"value":"ex-situ"}}},
{"data":{"values":[{}]},"mark":{"type":"text","fontSize":20.5,"align":"left","baseline":"middle"},"encoding":{"x":{"datum":148.6,"scale":{"domain":[-8.5,300],"nice":false,"zero":false},"axis":null},"y":{"datum":6.8,"scale":{"domain":[-0.64,14.43],"nice":false,"zero":false},"axis":null},"text":{"value":", pH 7.0"}}},
{"data":{"values":[{}]},"mark":{"type":"text","fontSize":20,"align":"left","baseline":"middle"},"encoding":{"x":{"datum":-92.2,"scale":{"domain":[-8.5,300],"nice":false,"zero":false},"axis":null},"y":{"datum":13.45,"scale":{"domain":[-0.64,14.43],"nice":false,"zero":false},"axis":null},"text":{"value":"(c)"}}},
{"data":{"values":[{}]},"mark":{"type":"text","fontSize":19.5,"align":"center","baseline":"middle"},"encoding":{"x":{"datum":154.2,"scale":{"domain":[-8.5,300],"nice":false,"zero":false},"axis":null},"y":{"datum":13.42,"scale":{"domain":[-0.64,14.43],"nice":false,"zero":false},"axis":null},"text":{"value":"[Fe(VI)]/[P(V)] = 5:1"}}},
{"data":{"values":[{}]},"mark":{"type":"text","fontSize":20,"align":"center","baseline":"middle"},"encoding":{"x":{"datum":156,"scale":{"domain":[-8.5,300],"nice":false,"zero":false},"axis":null},"y":{"datum":-4.6,"scale":{"domain":[-0.64,14.43],"nice":false,"zero":false},"axis":null},"text":{"value":"Time, min"}}}
],"resolve":{"axis":{"x":"independent","y":"independent"}}}
],"spacing":92,"bounds":"flush","resolve":{"scale":{"color":"independent","shape":"independent","strokeDash":"independent"}}},
{"vconcat":[
{"width":294,"height":261,"layer":[
{"data":{"name":"dT"},"mark":{"type":"area","color":"#2b36b3","interpolate":"monotone"},"encoding":{"x":{"field":"v","type":"quantitative","scale":{"domain":[-10.5,10.65],"nice":false,"zero":false},"axis":{"orient":"bottom","values":[-10,-9,-8,-7,-6,-5,-4,-3,-2,-1,0,1,2,3,4,5,6,7,8,9,10],"labelExpr":"datum.value % 2 == 0 ? '' + datum.value : ''","tickSize":6,"labelPadding":8,"labelFontSize":20,"labelOverlap":false,"title":"Velocity (mm/s)","titleFontSize":20.5,"titlePadding":4}},"y":{"field":"y","type":"quantitative","scale":{"domain":[97.5,100.11],"nice":false,"zero":false},"axis":{"orient":"left","values":[97.5,97.75,98,98.25,98.5,98.75,99,99.25,99.5,99.75,100],"labelExpr":"(datum.value*2) % 1 == 0 ? format(datum.value, '.1f') : ''","tickSize":6,"labelPadding":9,"labelFontSize":20,"labelOverlap":false,"title":"Transmission (%)","titleFontSize":20.5,"titlePadding":14}},"y2":{"datum":100}}},
{"data":{"name":"dO"},"mark":{"type":"area","color":"#2e6b12","interpolate":"monotone"},"encoding":{"x":{"field":"v","type":"quantitative","scale":{"domain":[-10.5,10.65],"nice":false,"zero":false},"axis":null},"y":{"field":"y","type":"quantitative","scale":{"domain":[97.5,100.11],"nice":false,"zero":false},"axis":null},"y2":{"datum":99.93}}},
{"data":{"name":"dY"},"mark":{"type":"area","color":"#eeea3c","interpolate":"monotone"},"encoding":{"x":{"field":"v","type":"quantitative","scale":{"domain":[-10.5,10.65],"nice":false,"zero":false},"axis":null},"y":{"field":"y","type":"quantitative","scale":{"domain":[97.5,100.11],"nice":false,"zero":false},"axis":null},"y2":{"datum":99.93}}},
{"data":{"name":"dF"},"mark":{"type":"line","color":"#e25b68","strokeWidth":2.2,"interpolate":"monotone"},"encoding":{"x":{"field":"v","type":"quantitative","scale":{"domain":[-10.5,10.65],"nice":false,"zero":false},"axis":null},"y":{"field":"y","type":"quantitative","scale":{"domain":[97.5,100.11],"nice":false,"zero":false},"axis":null}}},
{"data":{"name":"dF"},"mark":{"type":"line","color":"#6a6a6a","strokeWidth":1.8,"strokeDash":[1.2,2.4],"interpolate":"monotone"},"encoding":{"x":{"field":"v","type":"quantitative","scale":{"domain":[-10.5,10.65],"nice":false,"zero":false},"axis":null},"y":{"field":"y","type":"quantitative","scale":{"domain":[97.5,100.11],"nice":false,"zero":false},"axis":null}}},
{"data":{"name":"leg"},"mark":{"type":"line"},"encoding":{"x":{"datum":0,"scale":{"domain":[-10.5,10.65],"nice":false,"zero":false},"axis":{"orient":"top","values":[-10,-9,-8,-7,-6,-5,-4,-3,-2,-1,0,1,2,3,4,5,6,7,8,9,10],"labels":false,"tickSize":-5,"title":null}},"y":{"datum":99,"scale":{"domain":[97.5,100.11],"nice":false,"zero":false},"axis":{"orient":"right","values":[97.5,97.75,98,98.25,98.5,98.75,99,99.25,99.5,99.75,100],"labels":false,"tickSize":-5,"title":null}},
"color":{"field":"s","type":"nominal","scale":{"domain":["Data","Fit","γ-Fe₂O₃-T-sites","γ-Fe₂O₃-O-sites","γ-FeOOH"],"range":["#999999","#e0707a","#6a6ae0","#5a9e4a","#eeee55"]},"legend":{"orient":"bottom-left","offset":3,"title":null,"padding":0,"labelFontSize":13,"symbolType":"stroke","symbolSize":750,"symbolStrokeWidth":3,"clipHeight":17,"rowPadding":2,"labelOffset":4}},
"strokeDash":{"field":"s","type":"nominal","scale":{"domain":["Data","Fit","γ-Fe₂O₃-T-sites","γ-Fe₂O₃-O-sites","γ-FeOOH"],"range":[[0.1,14,2.5,100],[1,0],[1,0],[1,0],[1,0]]},"legend":{"orient":"bottom-left","offset":3,"title":null,"padding":0,"labelFontSize":13,"symbolType":"stroke","symbolSize":750,"symbolStrokeWidth":3,"clipHeight":17,"rowPadding":2,"labelOffset":4}}}},
{"data":{"values":[{}]},"mark":{"type":"text","fontSize":20,"align":"left","baseline":"middle"},"encoding":{"x":{"datum":-17.77,"scale":{"domain":[-10.5,10.65],"nice":false,"zero":false},"axis":null},"y":{"datum":100,"scale":{"domain":[97.5,100.11],"nice":false,"zero":false},"axis":null},"text":{"value":"(d)"}}},
{"data":{"values":[{}]},"mark":{"type":"text","fontSize":13,"align":"right","baseline":"middle"},"encoding":{"x":{"datum":10.0,"scale":{"domain":[-10.5,10.65],"nice":false,"zero":false},"axis":null},"y":{"datum":98.07,"scale":{"domain":[97.5,100.11],"nice":false,"zero":false},"axis":null},"text":{"value":"5 K/5 T"}}},
{"data":{"values":[{}]},"mark":{"type":"text","fontSize":13,"align":"right","baseline":"middle"},"encoding":{"x":{"datum":10.0,"scale":{"domain":[-10.5,10.65],"nice":false,"zero":false},"axis":null},"y":{"datum":97.85,"scale":{"domain":[97.5,100.11],"nice":false,"zero":false},"axis":null},"text":{"value":"Fe(VI)/P(V) = 3:1"}}},
{"data":{"values":[{}]},"mark":{"type":"text","fontSize":13,"align":"right","baseline":"middle","fontStyle":"italic"},"encoding":{"x":{"datum":5.62,"scale":{"domain":[-10.5,10.65],"nice":false,"zero":false},"axis":null},"y":{"datum":97.62,"scale":{"domain":[97.5,100.11],"nice":false,"zero":false},"axis":null},"text":{"value":"“in-situ”"}}},
{"data":{"values":[{}]},"mark":{"type":"text","fontSize":13,"align":"right","baseline":"middle"},"encoding":{"x":{"datum":10.0,"scale":{"domain":[-10.5,10.65],"nice":false,"zero":false},"axis":null},"y":{"datum":97.62,"scale":{"domain":[97.5,100.11],"nice":false,"zero":false},"axis":null},"text":{"value":"conditions"}}}
],"resolve":{"axis":{"x":"independent","y":"independent"}}},
{"width":294,"height":258,"layer":[
{"data":{"name":"eT"},"mark":{"type":"area","color":"#2b36b3","interpolate":"monotone"},"encoding":{"x":{"field":"v","type":"quantitative","scale":{"domain":[-10.5,10.65],"nice":false,"zero":false},"axis":{"orient":"bottom","values":[-10,-9,-8,-7,-6,-5,-4,-3,-2,-1,0,1,2,3,4,5,6,7,8,9,10],"labelExpr":"datum.value % 2 == 0 ? '' + datum.value : ''","tickSize":6,"labelPadding":8,"labelFontSize":20,"labelOverlap":false,"title":"Velocity (mm/s)","titleFontSize":20.5,"titlePadding":4}},"y":{"field":"y","type":"quantitative","scale":{"domain":[97.0,100.096],"nice":false,"zero":false},"axis":{"orient":"left","values":[97,97.25,97.5,97.75,98,98.25,98.5,98.75,99,99.25,99.5,99.75,100],"labelExpr":"(datum.value*2) % 1 == 0 ? format(datum.value, '.1f') : ''","tickSize":6,"labelPadding":9,"labelFontSize":20,"labelOverlap":false,"title":"Transmission (%)","titleFontSize":20.5,"titlePadding":14}},"y2":{"datum":100}}},
{"data":{"name":"eO"},"mark":{"type":"area","color":"#2e6b12","interpolate":"monotone"},"encoding":{"x":{"field":"v","type":"quantitative","scale":{"domain":[-10.5,10.65],"nice":false,"zero":false},"axis":null},"y":{"field":"y","type":"quantitative","scale":{"domain":[97.0,100.096],"nice":false,"zero":false},"axis":null},"y2":{"datum":99.93}}},
{"data":{"name":"eY"},"mark":{"type":"area","color":"#eeea3c","interpolate":"monotone"},"encoding":{"x":{"field":"v","type":"quantitative","scale":{"domain":[-10.5,10.65],"nice":false,"zero":false},"axis":null},"y":{"field":"y","type":"quantitative","scale":{"domain":[97.0,100.096],"nice":false,"zero":false},"axis":null},"y2":{"datum":99.93}}},
{"data":{"name":"eF"},"mark":{"type":"line","color":"#e25b68","strokeWidth":2.2,"interpolate":"monotone"},"encoding":{"x":{"field":"v","type":"quantitative","scale":{"domain":[-10.5,10.65],"nice":false,"zero":false},"axis":null},"y":{"field":"y","type":"quantitative","scale":{"domain":[97.0,100.096],"nice":false,"zero":false},"axis":null}}},
{"data":{"name":"eF"},"mark":{"type":"line","color":"#6a6a6a","strokeWidth":1.8,"strokeDash":[1.2,2.4],"interpolate":"monotone"},"encoding":{"x":{"field":"v","type":"quantitative","scale":{"domain":[-10.5,10.65],"nice":false,"zero":false},"axis":null},"y":{"field":"y","type":"quantitative","scale":{"domain":[97.0,100.096],"nice":false,"zero":false},"axis":null}}},
{"data":{"name":"leg"},"mark":{"type":"line"},"encoding":{"x":{"datum":0,"scale":{"domain":[-10.5,10.65],"nice":false,"zero":false},"axis":{"orient":"top","values":[-10,-9,-8,-7,-6,-5,-4,-3,-2,-1,0,1,2,3,4,5,6,7,8,9,10],"labels":false,"tickSize":-5,"title":null}},"y":{"datum":99,"scale":{"domain":[97.0,100.096],"nice":false,"zero":false},"axis":{"orient":"right","values":[97,97.25,97.5,97.75,98,98.25,98.5,98.75,99,99.25,99.5,99.75,100],"labels":false,"tickSize":-5,"title":null}},
"color":{"field":"s","type":"nominal","scale":{"domain":["Data","Fit","γ-Fe₂O₃-T-sites","γ-Fe₂O₃-O-sites","γ-FeOOH"],"range":["#999999","#e0707a","#6a6ae0","#5a9e4a","#eeee55"]},"legend":{"orient":"bottom-left","offset":3,"title":null,"padding":0,"labelFontSize":13,"symbolType":"stroke","symbolSize":750,"symbolStrokeWidth":3,"clipHeight":17,"rowPadding":2,"labelOffset":4}},
"strokeDash":{"field":"s","type":"nominal","scale":{"domain":["Data","Fit","γ-Fe₂O₃-T-sites","γ-Fe₂O₃-O-sites","γ-FeOOH"],"range":[[0.1,14,2.5,100],[1,0],[1,0],[1,0],[1,0]]},"legend":{"orient":"bottom-left","offset":3,"title":null,"padding":0,"labelFontSize":13,"symbolType":"stroke","symbolSize":750,"symbolStrokeWidth":3,"clipHeight":17,"rowPadding":2,"labelOffset":4}}}},
{"data":{"values":[{}]},"mark":{"type":"text","fontSize":20,"align":"left","baseline":"middle"},"encoding":{"x":{"datum":-17.77,"scale":{"domain":[-10.5,10.65],"nice":false,"zero":false},"axis":null},"y":{"datum":100,"scale":{"domain":[97.0,100.096],"nice":false,"zero":false},"axis":null},"text":{"value":"(e)"}}},
{"data":{"values":[{}]},"mark":{"type":"text","fontSize":13,"align":"right","baseline":"middle"},"encoding":{"x":{"datum":10.0,"scale":{"domain":[-10.5,10.65],"nice":false,"zero":false},"axis":null},"y":{"datum":97.66,"scale":{"domain":[97.0,100.096],"nice":false,"zero":false},"axis":null},"text":{"value":"5 K/5 T"}}},
{"data":{"values":[{}]},"mark":{"type":"text","fontSize":13,"align":"right","baseline":"middle"},"encoding":{"x":{"datum":10.0,"scale":{"domain":[-10.5,10.65],"nice":false,"zero":false},"axis":null},"y":{"datum":97.4,"scale":{"domain":[97.0,100.096],"nice":false,"zero":false},"axis":null},"text":{"value":"Fe(VI)/P(V) = 5:1"}}},
{"data":{"values":[{}]},"mark":{"type":"text","fontSize":13,"align":"right","baseline":"middle","fontStyle":"italic"},"encoding":{"x":{"datum":5.62,"scale":{"domain":[-10.5,10.65],"nice":false,"zero":false},"axis":null},"y":{"datum":97.16,"scale":{"domain":[97.0,100.096],"nice":false,"zero":false},"axis":null},"text":{"value":"“in-situ”"}}},
{"data":{"values":[{}]},"mark":{"type":"text","fontSize":13,"align":"right","baseline":"middle"},"encoding":{"x":{"datum":10.0,"scale":{"domain":[-10.5,10.65],"nice":false,"zero":false},"axis":null},"y":{"datum":97.16,"scale":{"domain":[97.0,100.096],"nice":false,"zero":false},"axis":null},"text":{"value":"conditions"}}}
],"resolve":{"axis":{"x":"independent","y":"independent"}}},
{"width":294,"height":260,"layer":[
{"data":{"name":"fT"},"mark":{"type":"area","color":"#2b36b3","interpolate":"monotone"},"encoding":{"x":{"field":"v","type":"quantitative","scale":{"domain":[-10.5,10.65],"nice":false,"zero":false},"axis":{"orient":"bottom","values":[-10,-9,-8,-7,-6,-5,-4,-3,-2,-1,0,1,2,3,4,5,6,7,8,9,10],"labelExpr":"datum.value % 2 == 0 ? '' + datum.value : ''","tickSize":6,"labelPadding":8,"labelFontSize":20,"labelOverlap":false,"title":"Velocity (mm/s)","titleFontSize":20.5,"titlePadding":4}},"y":{"field":"y","type":"quantitative","scale":{"domain":[97.5,100.11],"nice":false,"zero":false},"axis":{"orient":"left","values":[97.5,97.75,98,98.25,98.5,98.75,99,99.25,99.5,99.75,100],"labelExpr":"(datum.value*2) % 1 == 0 ? format(datum.value, '.1f') : ''","tickSize":6,"labelPadding":9,"labelFontSize":20,"labelOverlap":false,"title":"Transmission (%)","titleFontSize":20.5,"titlePadding":14}},"y2":{"datum":100}}},
{"data":{"name":"fO"},"mark":{"type":"area","color":"#2e6b12","interpolate":"monotone"},"encoding":{"x":{"field":"v","type":"quantitative","scale":{"domain":[-10.5,10.65],"nice":false,"zero":false},"axis":null},"y":{"field":"y","type":"quantitative","scale":{"domain":[97.5,100.11],"nice":false,"zero":false},"axis":null},"y2":{"datum":99.93}}},
{"data":{"name":"fY"},"mark":{"type":"area","color":"#eeea3c","interpolate":"monotone"},"encoding":{"x":{"field":"v","type":"quantitative","scale":{"domain":[-10.5,10.65],"nice":false,"zero":false},"axis":null},"y":{"field":"y","type":"quantitative","scale":{"domain":[97.5,100.11],"nice":false,"zero":false},"axis":null},"y2":{"datum":99.93}}},
{"data":{"name":"fF"},"mark":{"type":"line","color":"#e25b68","strokeWidth":2.2,"interpolate":"monotone"},"encoding":{"x":{"field":"v","type":"quantitative","scale":{"domain":[-10.5,10.65],"nice":false,"zero":false},"axis":null},"y":{"field":"y","type":"quantitative","scale":{"domain":[97.5,100.11],"nice":false,"zero":false},"axis":null}}},
{"data":{"name":"fF"},"mark":{"type":"line","color":"#6a6a6a","strokeWidth":1.8,"strokeDash":[1.2,2.4],"interpolate":"monotone"},"encoding":{"x":{"field":"v","type":"quantitative","scale":{"domain":[-10.5,10.65],"nice":false,"zero":false},"axis":null},"y":{"field":"y","type":"quantitative","scale":{"domain":[97.5,100.11],"nice":false,"zero":false},"axis":null}}},
{"data":{"name":"leg"},"mark":{"type":"line"},"encoding":{"x":{"datum":0,"scale":{"domain":[-10.5,10.65],"nice":false,"zero":false},"axis":{"orient":"top","values":[-10,-9,-8,-7,-6,-5,-4,-3,-2,-1,0,1,2,3,4,5,6,7,8,9,10],"labels":false,"tickSize":-5,"title":null}},"y":{"datum":99,"scale":{"domain":[97.5,100.11],"nice":false,"zero":false},"axis":{"orient":"right","values":[97.5,97.75,98,98.25,98.5,98.75,99,99.25,99.5,99.75,100],"labels":false,"tickSize":-5,"title":null}},
"color":{"field":"s","type":"nominal","scale":{"domain":["Data","Fit","γ-Fe₂O₃-T-sites","γ-Fe₂O₃-O-sites","γ-FeOOH"],"range":["#999999","#e0707a","#6a6ae0","#5a9e4a","#eeee55"]},"legend":{"orient":"bottom-left","offset":3,"title":null,"padding":0,"labelFontSize":13,"symbolType":"stroke","symbolSize":750,"symbolStrokeWidth":3,"clipHeight":17,"rowPadding":2,"labelOffset":4}},
"strokeDash":{"field":"s","type":"nominal","scale":{"domain":["Data","Fit","γ-Fe₂O₃-T-sites","γ-Fe₂O₃-O-sites","γ-FeOOH"],"range":[[0.1,14,2.5,100],[1,0],[1,0],[1,0],[1,0]]},"legend":{"orient":"bottom-left","offset":3,"title":null,"padding":0,"labelFontSize":13,"symbolType":"stroke","symbolSize":750,"symbolStrokeWidth":3,"clipHeight":17,"rowPadding":2,"labelOffset":4}}}},
{"data":{"values":[{}]},"mark":{"type":"text","fontSize":20,"align":"left","baseline":"middle"},"encoding":{"x":{"datum":-17.77,"scale":{"domain":[-10.5,10.65],"nice":false,"zero":false},"axis":null},"y":{"datum":100,"scale":{"domain":[97.5,100.11],"nice":false,"zero":false},"axis":null},"text":{"value":"(f)"}}},
{"data":{"values":[{}]},"mark":{"type":"text","fontSize":13,"align":"right","baseline":"middle"},"encoding":{"x":{"datum":10.0,"scale":{"domain":[-10.5,10.65],"nice":false,"zero":false},"axis":null},"y":{"datum":98.05,"scale":{"domain":[97.5,100.11],"nice":false,"zero":false},"axis":null},"text":{"value":"5 K/5 T"}}},
{"data":{"values":[{}]},"mark":{"type":"text","fontSize":13,"align":"right","baseline":"middle"},"encoding":{"x":{"datum":10.0,"scale":{"domain":[-10.5,10.65],"nice":false,"zero":false},"axis":null},"y":{"datum":97.83,"scale":{"domain":[97.5,100.11],"nice":false,"zero":false},"axis":null},"text":{"value":"Fe(VI)/P(V) = 5:1"}}},
{"data":{"values":[{}]},"mark":{"type":"text","fontSize":13,"align":"right","baseline":"middle","fontStyle":"italic"},"encoding":{"x":{"datum":5.62,"scale":{"domain":[-10.5,10.65],"nice":false,"zero":false},"axis":null},"y":{"datum":97.6,"scale":{"domain":[97.5,100.11],"nice":false,"zero":false},"axis":null},"text":{"value":"“ex-situ”"}}},
{"data":{"values":[{}]},"mark":{"type":"text","fontSize":13,"align":"right","baseline":"middle"},"encoding":{"x":{"datum":10.0,"scale":{"domain":[-10.5,10.65],"nice":false,"zero":false},"axis":null},"y":{"datum":97.6,"scale":{"domain":[97.5,100.11],"nice":false,"zero":false},"axis":null},"text":{"value":"conditions"}}}
],"resolve":{"axis":{"x":"independent","y":"independent"}}}
],"spacing":62,"bounds":"flush","resolve":{"scale":{"color":"independent","shape":"independent","strokeDash":"independent"}}}
],
"spacing":16,
"align":"none",
"bounds":"full",
"resolve":{"scale":{"color":"independent","shape":"independent","strokeDash":"independent"}}
}
